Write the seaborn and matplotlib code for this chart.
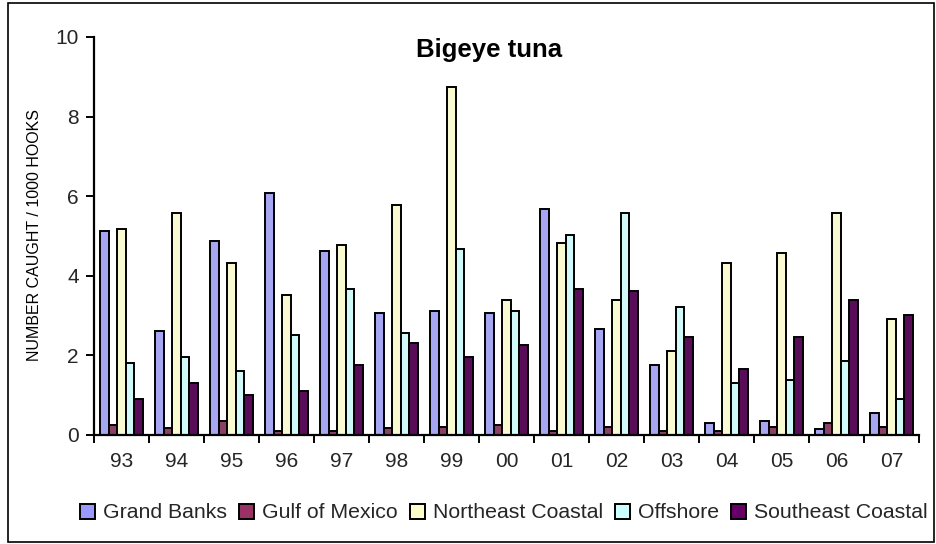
import matplotlib
matplotlib.use("Agg")
import matplotlib.pyplot as plt
from matplotlib.patches import Rectangle, Patch
import seaborn as sns
import pandas as pd
import numpy as np

years = ["93", "94", "95", "96", "97", "98", "99", "00", "01", "02", "03", "04", "05", "06", "07"]
regions = ["Grand Banks", "Gulf of Mexico", "Northeast Coastal", "Offshore", "Southeast Coastal"]
grand_banks = [5.13, 2.61, 4.88, 6.08, 4.63, 3.07, 3.12, 3.07, 5.68, 2.66, 1.77, 0.30, 0.36, 0.16, 0.55]
gulf_of_mexico = [0.25, 0.17, 0.36, 0.10, 0.10, 0.17, 0.21, 0.25, 0.10, 0.21, 0.10, 0.10, 0.21, 0.30, 0.21]
northeast_coastal = [5.18, 5.58, 4.32, 3.52, 4.77, 5.78, 8.74, 3.38, 4.83, 3.38, 2.11, 4.32, 4.58, 5.58, 2.91]
offshore = [1.82, 1.97, 1.62, 2.52, 3.68, 2.57, 4.68, 3.12, 5.03, 5.58, 3.22, 1.31, 1.37, 1.87, 0.90]
southeast_coastal = [0.90, 1.31, 1.01, 1.11, 1.77, 2.32, 1.97, 2.27, 3.68, 3.63, 2.47, 1.67, 2.47, 3.38, 3.02]
colors = ["#9999FF", "#993366", "#FFFFCC", "#CCFFFF", "#660066"]

series = [grand_banks, gulf_of_mexico, northeast_coastal, offshore, southeast_coastal]
df = pd.DataFrame(
    [(y, r, v) for r, vals in zip(regions, series) for y, v in zip(years, vals)],
    columns=["year", "region", "value"],
)

sns.set_theme(style="white")
plt.rcParams["font.family"] = ["Liberation Sans", "DejaVu Sans"]

W, H = 937, 544
fig = plt.figure(figsize=(W / 100, H / 100), dpi=100)
ax = fig.add_axes([94 / W, 1 - 435 / H, (919 - 94) / W, (435 - 37) / H])

sns.barplot(data=df, x="year", y="value", hue="region", order=years, hue_order=regions,
            palette=colors, width=0.78, edgecolor="black", linewidth=1.4, ax=ax,
            legend=False, errorbar=None)

ax.set_xlim(-0.5, len(years) - 0.5)
ax.set_ylim(0, 10)
ax.set_yticks([0, 2, 4, 6, 8, 10])
ax.set_yticklabels(["0", "2", "4", "6", "8", "10"], fontsize=15)
ax.set_xticks(np.arange(-0.5, len(years), 1.0))
ax.set_xticklabels([""] * (len(years) + 1))
ax.set_xticks(np.arange(len(years)), minor=True)
ax.set_xticklabels(years, minor=True, fontsize=15)
ax.tick_params(axis="x", which="major", direction="out", length=6, width=1.4, color="black", bottom=True)
ax.tick_params(axis="x", which="minor", length=0, pad=12, bottom=True)
ax.tick_params(axis="y", direction="out", length=6, width=1.4, color="black", pad=5, left=True)
ax.set_xlabel("")
ax.set_ylabel("")
for s in ["top", "right"]:
    ax.spines[s].set_visible(False)
for s in ["left", "bottom"]:
    ax.spines[s].set_color("black")
    ax.spines[s].set_linewidth(1.6)
ax.grid(False)

fig.text(35 / W, 1 - 235 / H, "NUMBER CAUGHT / 1000 HOOKS", rotation=90, ha="center", va="center",
         fontsize=11.5, color="black")
fig.text(489 / W, 1 - 50 / H, "Bigeye tuna", ha="center", va="center", fontsize=18.5,
         fontweight="bold", color="black")

handles = [Patch(facecolor=c, edgecolor="black", linewidth=1.4) for c in colors]
fig.legend(handles, regions, loc="center", bbox_to_anchor=(504 / W, 1 - 513 / H), ncol=5,
           frameon=False, fontsize=15.3, handlelength=0.7, handleheight=0.7,
           handletextpad=0.4, columnspacing=0.55, borderpad=0)

fig.add_artist(Rectangle((8 / W, 1 - 542 / H), (934 - 8) / W, (542 - 3) / H,
                         transform=fig.transFigure, fill=False, edgecolor="black", linewidth=1.2))

fig.savefig("out.png", dpi=100, facecolor="white")
